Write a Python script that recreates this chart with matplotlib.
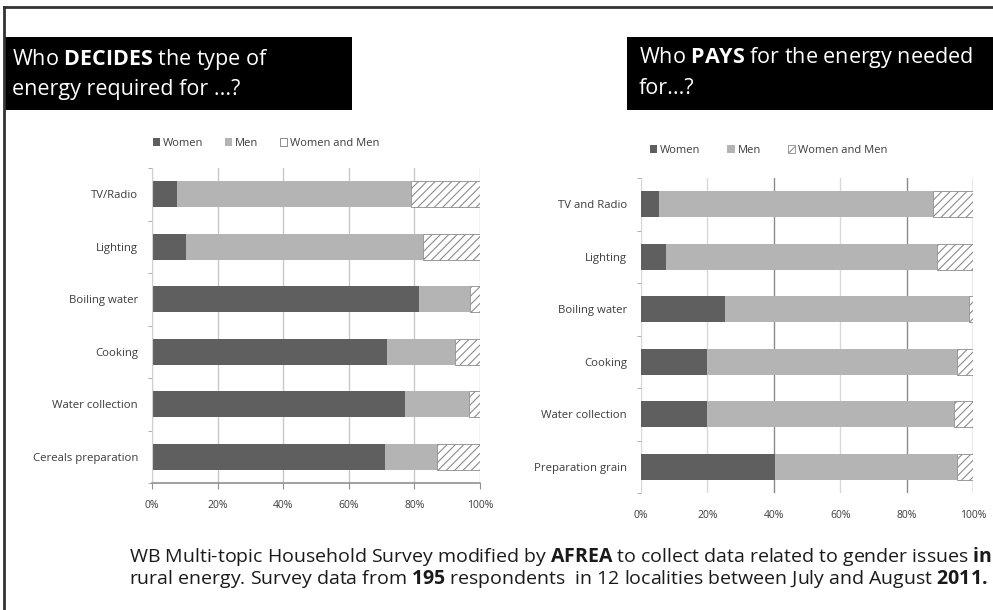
import matplotlib.pyplot as plt
import numpy as np
from matplotlib.patches import Rectangle
from matplotlib.lines import Line2D

plt.rcParams['font.family'] = ['Open Sans', 'DejaVu Sans']
plt.rcParams['mathtext.fontset'] = 'custom'
plt.rcParams['mathtext.rm'] = 'Open Sans'
plt.rcParams['mathtext.bf'] = 'Open Sans:bold'
plt.rcParams['hatch.linewidth'] = 0.8

series = ['Women', 'Men', 'Women and Men']

decide_cats = ['TV/Radio', 'Lighting', 'Boiling water', 'Cooking',
               'Water collection', 'Cereals preparation']
decide_women = [7.5, 10.5, 81.5, 71.5, 77, 71]
decide_men = [71.5, 72, 15.5, 21, 19.5, 16]
decide_both = [21, 17.5, 3, 7.5, 3.5, 13]

pays_cats = ['TV and Radio', 'Lighting', 'Boiling water', 'Cooking',
             'Water collection', 'Preparation grain']
pays_women = [5.5, 7.5, 25.2, 20, 20, 40.3]
pays_men = [82.5, 81.7, 73.5, 75.2, 74.2, 54.9]
pays_both = [12, 10.8, 1.3, 4.8, 5.8, 4.8]

xticks = [0, 20, 40, 60, 80, 100]
xlabels = ['0%', '20%', '40%', '60%', '80%', '100%']

W, H = 993, 610
C_WOMEN = '#5f5f5f'
C_MEN = '#b4b4b4'
C_TEXT = '#3c3c3c'


def px(x0, y0, x1, y1):
    # pixel box (top-left origin) -> figure fraction rect
    return [x0 / W, 1 - y1 / H, (x1 - x0) / W, (y1 - y0) / H]


def black_box(x0, y0, x1, y1):
    l, b, w, h = px(x0, y0, x1, y1)
    fig.add_artist(Rectangle((l, b), w, h, transform=fig.transFigure,
                             facecolor='black', edgecolor='none'))


def stacked(ax, cats, women, men, both, grid_colors):
    y = np.arange(len(cats))
    women = np.array(women)
    men = np.array(men)
    both = np.array(both)
    ax.set_axisbelow(True)
    ax.barh(y, women, height=0.49, color=C_WOMEN, label=series[0])
    ax.barh(y, men, left=women, height=0.49, color=C_MEN, label=series[1])
    ax.barh(y, both, left=women + men, height=0.49, color='white',
            edgecolor='#8c8c8c', hatch='////', linewidth=0.6, label=series[2])
    ax.set_ylim(len(cats) - 0.5, -0.5)
    ax.set_xlim(0, 100)
    ax.set_yticks(y)
    ax.set_yticklabels(cats, fontsize=8.2, color=C_TEXT)
    ax.set_yticks(np.arange(len(cats) + 1) - 0.5, minor=True)
    ax.tick_params(axis='y', which='major', length=0, pad=10)
    ax.tick_params(axis='y', which='minor', length=3, color='#a0a0a0')
    ax.set_xticks(xticks)
    ax.set_xticklabels(xlabels, fontsize=7.5, color=C_TEXT)
    ax.tick_params(axis='x', length=4, color='#909090', pad=8)
    ax.grid(axis='x', linewidth=1.0)
    for gl, c in zip(ax.xaxis.get_gridlines(), grid_colors):
        gl.set_color(c)
    for s in ['top', 'right']:
        ax.spines[s].set_visible(False)
    ax.spines['left'].set_color('#d0d0d0')
    ax.spines['bottom'].set_color('#909090')
    ax.spines['bottom'].set_linewidth(1.2)


fig = plt.figure(figsize=(W / 100, H / 100), dpi=100)

ax1 = fig.add_axes(px(152, 168, 480, 483))
stacked(ax1, decide_cats, decide_women, decide_men, decide_both,
        ['#c8c8c8'] * 6)
ax2 = fig.add_axes(px(641, 178, 973, 493))
stacked(ax2, pays_cats, pays_women, pays_men, pays_both,
        ['#d8d8d8', '#d8d8d8', '#8a8a8a', '#d8d8d8', '#8a8a8a', '#8a8a8a'])
ax2.spines['left'].set_visible(False)
ax2.spines['bottom'].set_visible(False)
ax2.tick_params(axis='x', length=0, pad=12)

# legends
h1, l1 = ax1.get_legend_handles_labels()
h1[2] = Rectangle((0, 0), 1, 1, facecolor='white', edgecolor='#7a7a7a', linewidth=0.6)
fig.legend(h1, l1, loc='center left', bbox_to_anchor=(147 / W, 1 - 143 / H),
           ncol=3, frameon=False, fontsize=8, handlelength=0.7, handleheight=0.7,
           handletextpad=0.25, columnspacing=1.9, borderpad=0, labelcolor=C_TEXT)
h2, l2 = ax2.get_legend_handles_labels()
fig.legend(h2, l2, loc='center left', bbox_to_anchor=(644 / W, 1 - 150 / H),
           ncol=3, frameon=False, fontsize=8, handlelength=0.7, handleheight=0.7,
           handletextpad=0.25, columnspacing=2.4, borderpad=0, labelcolor=C_TEXT)

# title boxes
black_box(5, 37, 352, 110)
black_box(627, 37, 1000, 110)
fig.text(12 / W, 1 - 60 / H, r'Who $\mathbf{DECIDES}$ the type of',
         color='white', fontsize=15.5, va='center')
fig.text(12 / W, 1 - 90 / H, 'energy required for ...?',
         color='white', fontsize=15.5, va='center')
fig.text(639 / W, 1 - 58 / H, r'Who $\mathbf{PAYS}$ for the energy needed',
         color='white', fontsize=15.5, va='center')
fig.text(639 / W, 1 - 88 / H, 'for...?',
         color='white', fontsize=15.5, va='center')

# footer
fig.text(129 / W, 1 - 556 / H,
         r'WB Multi-topic Household Survey modified by $\mathbf{AFREA}$ to collect data'
         r' related to gender issues $\mathbf{in}$',
         fontsize=14.0, va='center', color='#1a1a1a')
fig.text(129 / W, 1 - 579 / H,
         r'rural energy. Survey data from $\mathbf{195}$ respondents  in 12 localities'
         r' between July and August $\mathbf{2011.}$',
         fontsize=14.0, va='center', color='#1a1a1a')

# frame
fig.add_artist(Line2D([4 / W, 4 / W], [0, 1 - 7 / H], transform=fig.transFigure,
                      color='#333333', linewidth=2))
fig.add_artist(Line2D([4 / W, 1], [1 - 7 / H, 1 - 7 / H], transform=fig.transFigure,
                      color='#333333', linewidth=2))

fig.savefig('out.png', dpi=100)
